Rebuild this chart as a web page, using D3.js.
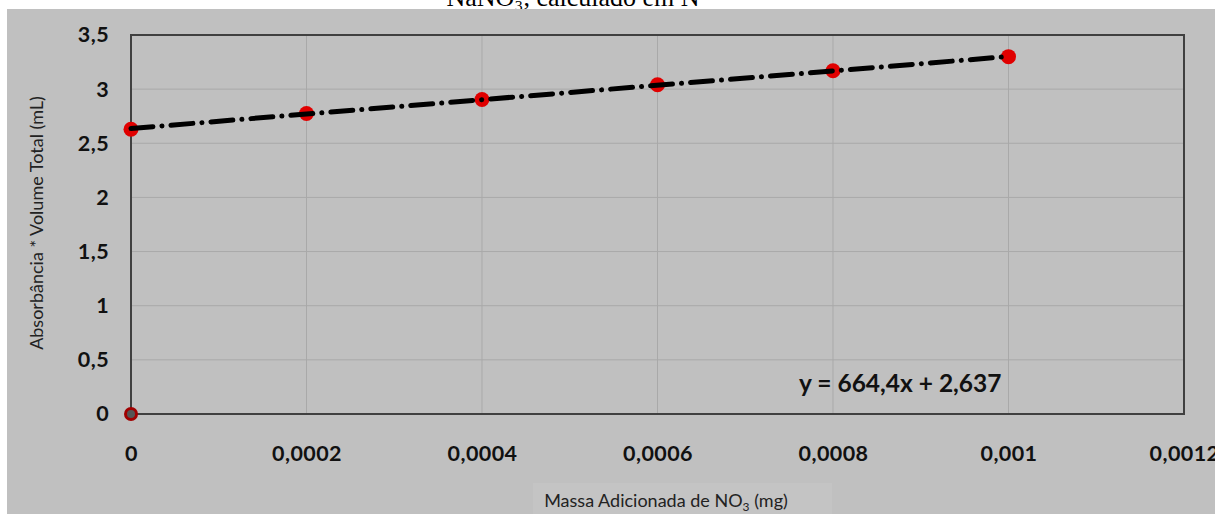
<!DOCTYPE html>
<html><head><meta charset="utf-8">
<script src="https://cdn.jsdelivr.net/npm/d3@7"></script>
<style>html,body{margin:0;padding:0;background:#fff;overflow:hidden}</style>
</head><body>
<svg id="c" width="1215" height="514"></svg>
<script>
const xValues = [0, 0.0002, 0.0004, 0.0006, 0.0008, 0.001];
const yValues = [2.63, 2.775, 2.905, 3.04, 3.17, 3.30];
const originPoint = [0, 0];
const xTicks = [0, 0.0002, 0.0004, 0.0006, 0.0008, 0.001, 0.0012];
const xTickLabels = ["0", "0,0002", "0,0004", "0,0006", "0,0008", "0,001", "0,0012"];
const yTicks = [0, 0.5, 1, 1.5, 2, 2.5, 3, 3.5];
const yTickLabels = ["0", "0,5", "1", "1,5", "2", "2,5", "3", "3,5"];
const slope = 664.4, intercept = 2.637;
const equationText = "y = 664,4x + 2,637";
const titleText = "NaNO\u2083, calculado em N";
const xTitle = "Massa Adicionada de NO";
const yTitle = "Absorbância * Volume Total (mL)";

const svg = d3.select("#c");
const font = "Lato, 'Open Sans', sans-serif";

// title (mostly clipped by the gray background, as in the reference)
svg.append("text").attr("x", 573).attr("y", 5.5).attr("text-anchor", "middle")
  .attr("font-family", "'Liberation Serif', serif").attr("font-size", 26).attr("fill", "#000")
  .text(titleText);

svg.append("rect").attr("x", 7).attr("y", 9).attr("width", 1208).attr("height", 505).attr("fill", "#c0c0c0");

const L = 131, R = 1184, T = 35, B = 414;
const x = d3.scaleLinear().domain([0, 0.0012]).range([L, R]);
const y = d3.scaleLinear().domain([0, 3.5]).range([B, T]);

// gridlines
svg.append("g").selectAll("line").data(xTicks.slice(1, -1)).join("line")
  .attr("x1", d => x(d)).attr("x2", d => x(d)).attr("y1", T).attr("y2", B)
  .attr("stroke", "#a9a9a9").attr("stroke-width", 1);
svg.append("g").selectAll("line").data(yTicks.slice(1, -1)).join("line")
  .attr("x1", L).attr("x2", R).attr("y1", d => y(d)).attr("y2", d => y(d))
  .attr("stroke", "#a9a9a9").attr("stroke-width", 1);

// border
svg.append("rect").attr("x", L).attr("y", T).attr("width", R - L).attr("height", B - T)
  .attr("fill", "none").attr("stroke", "#404040").attr("stroke-width", 2);

// axes tick labels
const xAxis = d3.axisBottom(x).tickValues(xTicks).tickFormat((d, i) => xTickLabels[i]).tickSize(0).tickPadding(32);
const gx = svg.append("g").attr("transform", `translate(0,${B})`).call(xAxis);
gx.select(".domain").remove();
gx.selectAll("text").attr("font-family", font).attr("font-size", 21.5).attr("font-weight", "bold")
  .attr("fill", "#111").attr("letter-spacing", 0.4);

const yAxis = d3.axisLeft(y).tickValues(yTicks).tickFormat((d, i) => yTickLabels[i]).tickSize(0).tickPadding(22);
const gy = svg.append("g").attr("transform", `translate(${L},0)`).call(yAxis);
gy.select(".domain").remove();
gy.selectAll("text").attr("font-family", font).attr("font-size", 21.5).attr("font-weight", "bold")
  .attr("fill", "#111").attr("letter-spacing", 0.4);

// axis titles
svg.append("text").attr("transform", `translate(43,223) rotate(-90)`)
  .attr("text-anchor", "middle").attr("font-family", font).attr("font-size", 18).attr("fill", "#222")
  .text(yTitle);

svg.append("rect").attr("x", 533).attr("y", 483).attr("width", 299).attr("height", 31).attr("fill", "#c4c4c4");
const xt = svg.append("text").attr("x", 666).attr("y", 507).attr("text-anchor", "middle")
  .attr("font-family", font).attr("font-size", 18).attr("fill", "#222");
xt.append("tspan").text(xTitle);
xt.append("tspan").attr("dy", 4).attr("font-size", 12).text("3");
xt.append("tspan").attr("dy", -4).text(" (mg)");

// markers
svg.append("g").selectAll("circle").data(xValues.map((d, i) => [d, yValues[i]])).join("circle")
  .attr("cx", d => x(d[0])).attr("cy", d => y(d[1])).attr("r", 7.5).attr("fill", "#e00000");
svg.append("circle").attr("cx", x(originPoint[0])).attr("cy", y(originPoint[1])).attr("r", 7).attr("fill", "#a00000");
svg.append("circle").attr("cx", x(originPoint[0])).attr("cy", y(originPoint[1])).attr("r", 4).attr("fill", "#555");

// trendline
const x0 = xValues[0], x1 = xValues[xValues.length - 1];
svg.append("line").attr("x1", x(x0)).attr("y1", y(slope * x0 + intercept))
  .attr("x2", x(x1)).attr("y2", y(slope * x1 + intercept))
  .attr("stroke", "#000").attr("stroke-width", 5).attr("stroke-linecap", "round")
  .attr("stroke-dasharray", "22,9,0.1,9");

// equation
svg.append("text").attr("x", 799).attr("y", 392).attr("font-family", font).attr("font-size", 24.5)
  .attr("font-weight", "bold").attr("fill", "#111").text(equationText);
</script>
</body></html>
